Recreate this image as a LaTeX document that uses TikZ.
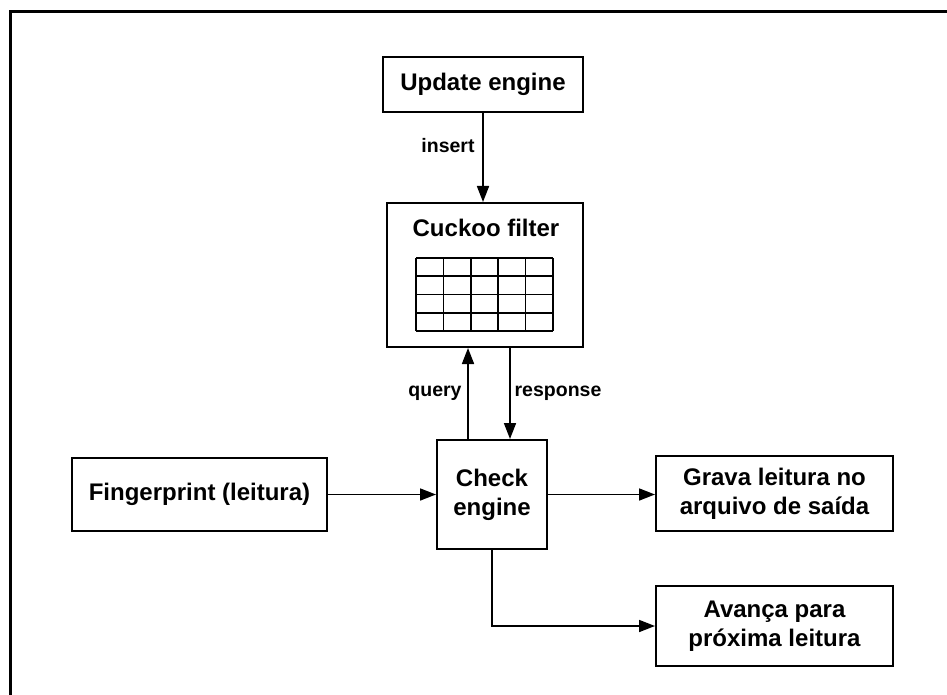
\documentclass[tikz,border=0pt]{standalone}
\usepackage{fontspec}
\setmainfont{Liberation Sans}
\usetikzlibrary{arrows.meta,calc}

\tikzset{
  box/.style={draw=black, line width=2pt, fill=white, inner sep=0pt, align=center,
              font=\bfseries\fontsize{24}{29}\selectfont},
  arr/.style={line width=1.7pt, -{Triangle[length=16pt,width=12pt]}},
  lbl/.style={font=\bfseries\fontsize{19.5}{23}\selectfont, inner sep=0pt},
  cell/.style={line width=1.6pt},
}

\begin{document}
\begin{tikzpicture}[x=1pt,y=-1pt]
  \useasboundingbox (0,0) rectangle (947,695);

  % outer frame (continues past the page edge)
  \draw[line width=3pt] (10,700) -- (10,12) -- (950,12);

  % blocks
  \node[box, minimum width=200pt, minimum height=55pt] (upd) at (483,84.5) {Update engine};
  \node[box, minimum width=196pt, minimum height=144pt] (cuckoo) at (485,275) {};
  \node[font=\bfseries\fontsize{24}{29}\selectfont, inner sep=0pt] (ctitle) at (486,228) {Cuckoo filter};
  \node[box, minimum width=110pt, minimum height=109pt] (check) at (492,494.5) {Check\\engine};
  \node[box, minimum width=255pt, minimum height=73pt] (finger) at (199.5,494.5) {Fingerprint (leitura)};
  \node[box, minimum width=237pt, minimum height=75pt] (grava) at (774.5,493.5) {Grava leitura no\\arquivo de saída};
  \node[box, minimum width=237pt, minimum height=80pt] (avanca) at (774.5,626) {Avança para\\próxima leitura};

  % filter table: 5 columns x 4 rows
  \foreach \i in {0,...,5} {
    \draw[cell] ({416+\i*27.4},258) -- ({416+\i*27.4},331);
  }
  \foreach \j in {0,...,4} {
    \draw[cell] (416,{258+\j*18.25}) -- (553,{258+\j*18.25});
  }

  % connector x positions
  \coordinate (qx) at (468,0);
  \coordinate (rx) at (510,0);

  % connectors
  \draw[arr] (upd.south) -- (upd.south |- cuckoo.north);
  \node[lbl] (linsert) at (448,146) {insert};

  \draw[arr] (check.north -| qx) -- (cuckoo.south -| qx);
  \node[lbl] (lquery) at (435,393) {query};

  \draw[arr] (cuckoo.south -| rx) -- (check.north -| rx);
  \node[lbl] (lresp) at (558,393) {response};

  \draw[arr] (finger.east) -- (check.west);
  \draw[arr] (check.east) -- (grava.west |- check.east);
  \draw[arr] (check.south) |- (avanca.west);
\end{tikzpicture}
\end{document}
